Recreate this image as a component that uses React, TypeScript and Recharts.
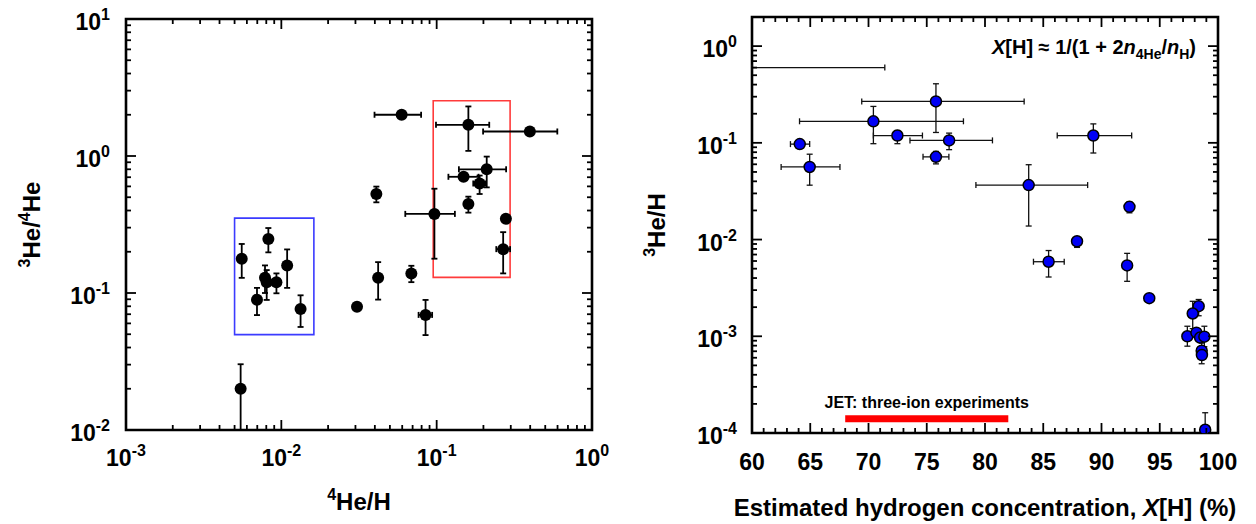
import React from "react";
import {
  ScatterChart,
  Scatter,
  XAxis,
  YAxis,
  ErrorBar,
  ReferenceArea,
  ReferenceLine,
} from "recharts";

const FONT = '"Liberation Sans", Arial, Helvetica, sans-serif';

// ---- left panel: 3He/4He against 4He/H ----
const he4PerH = [0.0595, 0.16, 0.398, 0.21, 0.149, 0.189, 0.16, 0.0967, 0.279, 0.268, 0.0409, 0.042, 0.0687, 0.0307, 0.0848, 0.00547, 0.00556, 0.00825, 0.00785, 0.00805, 0.0093, 0.0109, 0.00697, 0.0133];
const he3PerHe4 = [2.0, 1.69, 1.51, 0.8, 0.705, 0.63, 0.447, 0.378, 0.348, 0.209, 0.529, 0.129, 0.139, 0.0793, 0.0692, 0.02, 0.178, 0.248, 0.129, 0.12, 0.12, 0.159, 0.0893, 0.0764];
const he4Low = [0.0398, 0.099, 0.199, 0.139, 0.119, 0.172, null, 0.0628, null, 0.242, null, null, null, null, 0.0765, null, null, null, null, null, null, null, null, null];
const he4High = [0.0794, 0.218, 0.598, 0.28, 0.186, 0.206, null, 0.131, null, 0.297, null, null, null, null, 0.0935, null, null, null, null, null, null, null, null, null];
const ratioLow = [null, 1.09, null, 0.59, null, 0.528, 0.386, 0.178, null, 0.139, 0.459, 0.0895, 0.12, null, 0.0493, 0.01, 0.129, 0.198, 0.1, 0.089, 0.0995, 0.109, 0.069, 0.0565];
const ratioHigh = [null, 2.3, null, 0.99, null, 0.72, 0.505, 0.577, null, 0.278, 0.598, 0.168, 0.158, null, 0.089, 0.0302, 0.228, 0.298, 0.159, 0.147, 0.139, 0.208, 0.109, 0.0962];

// boxes drawn round the two groups
const blueBox = { x1: 0.005, x2: 0.0162, y1: 0.0497, y2: 0.352 };
const redBox = { x1: 0.095, x2: 0.297, y1: 0.13, y2: 2.53 };

const leftXTicks = [0.001, 0.002, 0.003, 0.004, 0.005, 0.006, 0.007, 0.008, 0.009, 0.01, 0.02, 0.03, 0.04, 0.05, 0.06, 0.07, 0.08, 0.09, 0.1, 0.2, 0.3, 0.4, 0.5, 0.6, 0.7, 0.8, 0.9, 1];
const leftYTicks = [0.01, 0.02, 0.03, 0.04, 0.05, 0.06, 0.07, 0.08, 0.09, 0.1, 0.2, 0.3, 0.4, 0.5, 0.6, 0.7, 0.8, 0.9, 1, 2, 3, 4, 5, 6, 7, 8, 9, 10];

// ---- right panel: 3He/H against X[H] ----
// first point sits left of the axis; only its error bar from the frame edge shows
const xH = [55.6, 64.1, 64.95, 70.42, 72.48, 75.79, 76.92, 75.79, 89.3, 83.75, 92.4, 87.9, 85.46, 92.2, 94.1, 98.34, 97.83, 97.37, 98.15, 98.46, 98.83, 98.6, 98.62, 98.9];
const he3PerH = [0.6, 0.097, 0.0563, 0.167, 0.119, 0.268, 0.106, 0.0716, 0.119, 0.0366, 0.0218, 0.0096, 0.0059, 0.0054, 0.00248, 0.00205, 0.00172, 0.001, 0.00109, 0.00097, 0.00099, 0.00071, 0.00064, 0.000108];
const xHLow = [60, 63.3, 62.5, 64.08, 70.42, 69.42, 73.56, 74.68, 86.2, 79.22, null, null, 84.16, null, null, null, null, null, null, null, null, null, null, null];
const xHHigh = [71.4, 64.95, 67.55, 78.15, 74.63, 83.36, 80.64, 76.9, 92.59, 88.81, null, null, 86.8, null, null, null, null, null, null, null, null, null, null, null];
const he3Low = [null, null, 0.0365, 0.098, 0.098, 0.128, 0.085, 0.0606, 0.0785, 0.0138, 0.0189, 0.0083, 0.0041, 0.0037, null, 0.00163, 0.0012, 0.00079, null, null, 0.00078, 0.00052, null, 0.0001];
const he3High = [null, null, 0.0763, 0.238, 0.134, 0.408, 0.126, 0.0815, 0.157, 0.0594, 0.0245, 0.0107, 0.0077, 0.0072, null, 0.0024, 0.0023, 0.00127, null, null, 0.00127, 0.00085, null, 0.000162];

const jetRange = [68, 82];
const jetLevel = 0.00014;

const rightXTicks = [60, 61, 62, 63, 64, 65, 66, 67, 68, 69, 70, 71, 72, 73, 74, 75, 76, 77, 78, 79, 80, 81, 82, 83, 84, 85, 86, 87, 88, 89, 90, 91, 92, 93, 94, 95, 96, 97, 98, 99, 100];
const rightYTicks = [0.0001, 0.0002, 0.0003, 0.0004, 0.0005, 0.0006, 0.0007, 0.0008, 0.0009, 0.001, 0.002, 0.003, 0.004, 0.005, 0.006, 0.007, 0.008, 0.009, 0.01, 0.02, 0.03, 0.04, 0.05, 0.06, 0.07, 0.08, 0.09, 0.1, 0.2, 0.3, 0.4, 0.5, 0.6, 0.7, 0.8, 0.9, 1, 2];

const err = (v: number, lo: number | null, hi: number | null) =>
  lo == null || hi == null ? null : [v - lo, hi - v];

const leftData = he4PerH.map((x, i) => ({
  x,
  y: he3PerHe4[i],
  ex: err(x, he4Low[i], he4High[i]),
  ey: err(he3PerHe4[i], ratioLow[i], ratioHigh[i]),
}));

const rightData = xH.map((x, i) => ({
  x,
  y: he3PerH[i],
  ex: err(x, xHLow[i], xHHigh[i]),
  ey: err(he3PerH[i], he3Low[i], he3High[i]),
}));

// plot frames inside each chart (chart-local pixels)
const LF = { left: 126, right: 592, top: 19, bottom: 430 };
const RF = { left: 132, right: 598, top: 17, bottom: 433 };

const isPow10 = (v: number) => Math.abs(Math.log10(v) - Math.round(Math.log10(v))) < 1e-6;

function PowText(props: any) {
  const { v, ...rest } = props;
  return (
    <text fontFamily={FONT} fontWeight="bold" fill="#000" fontSize={23} {...rest}>
      10
      <tspan dy={-10} fontSize={16}>{Math.round(Math.log10(v))}</tspan>
    </text>
  );
}

const tickStroke = { stroke: "#000", strokeWidth: 1.8 };

function LeftXTick(props: any) {
  const { x, payload } = props;
  const v = payload.value;
  const major = isPow10(v);
  const len = major ? 10 : 5;
  return (
    <g>
      <line x1={x} x2={x} y1={LF.bottom} y2={LF.bottom - len} {...tickStroke} />
      <line x1={x} x2={x} y1={LF.top} y2={LF.top + len} {...tickStroke} />
      {major && <PowText v={v} x={x} y={LF.bottom + 36} textAnchor="middle" />}
    </g>
  );
}

function LeftYTick(props: any) {
  const { y, payload } = props;
  const v = payload.value;
  const major = isPow10(v);
  const len = major ? 10 : 5;
  return (
    <g>
      <line x1={LF.left} x2={LF.left + len} y1={y} y2={y} {...tickStroke} />
      <line x1={LF.right} x2={LF.right - len} y1={y} y2={y} {...tickStroke} />
      {major && <PowText v={v} x={LF.left - 16} y={y + 11} textAnchor="end" />}
    </g>
  );
}

function RightXTick(props: any) {
  const { x, payload } = props;
  const v = payload.value;
  const major = v % 5 === 0;
  const len = major ? 10 : 5;
  return (
    <g>
      <line x1={x} x2={x} y1={RF.bottom} y2={RF.bottom - len} {...tickStroke} />
      <line x1={x} x2={x} y1={RF.top} y2={RF.top + len} {...tickStroke} />
      {major && (
        <text x={x} y={RF.bottom + 37} textAnchor="middle" fontFamily={FONT} fontWeight="bold" fontSize={23} fill="#000">
          {v}
        </text>
      )}
    </g>
  );
}

function RightYTick(props: any) {
  const { y, payload } = props;
  const v = payload.value;
  const major = isPow10(v);
  const len = major ? 10 : 5;
  return (
    <g>
      <line x1={RF.left} x2={RF.left + len} y1={y} y2={y} {...tickStroke} />
      <line x1={RF.right} x2={RF.right - len} y1={y} y2={y} {...tickStroke} />
      {major && <PowText v={v} x={RF.left - 15} y={y + 11} textAnchor="end" />}
    </g>
  );
}

const titleStyle = { fontFamily: FONT, fontWeight: "bold" as const, fill: "#000", fontSize: 24 };

function LeftXTitle() {
  return (
    <text x={(LF.left + LF.right) / 2} y={510} textAnchor="middle" {...titleStyle}>
      <tspan fontSize={16} dy={-10}>4</tspan>
      <tspan dy={10}>He/H</tspan>
    </text>
  );
}

function LeftYTitle() {
  const cx = 40;
  const cy = (LF.top + LF.bottom) / 2;
  return (
    <text x={cx} y={cy} textAnchor="middle" transform={`rotate(-90, ${cx}, ${cy})`} {...titleStyle}>
      <tspan fontSize={16} dy={-10}>3</tspan>
      <tspan dy={10}>He/</tspan>
      <tspan fontSize={16} dy={-10}>4</tspan>
      <tspan dy={10}>He</tspan>
    </text>
  );
}

function RightXTitle() {
  return (
    <text x={(RF.left + RF.right) / 2} y={516} textAnchor="middle" {...titleStyle}>
      Estimated hydrogen concentration, <tspan fontStyle="italic">X</tspan>[H] (%)
    </text>
  );
}

function RightYTitle() {
  const cx = 45;
  const cy = (RF.top + RF.bottom) / 2;
  return (
    <text x={cx} y={cy} textAnchor="middle" transform={`rotate(-90, ${cx}, ${cy})`} {...titleStyle}>
      <tspan fontSize={16} dy={-10}>3</tspan>
      <tspan dy={10}>He/H</tspan>
    </text>
  );
}

function LeftPanel() {
  return (
    <ScatterChart width={620} height={524} margin={{ top: 19, right: 28, bottom: 0, left: 0 }}>
      <XAxis
        type="number"
        dataKey="x"
        scale="log"
        domain={[0.001, 1]}
        allowDataOverflow
        ticks={leftXTicks}
        interval={0}
        tick={(p: any) => <LeftXTick {...p} />}
        tickLine={false}
        axisLine={false}
        height={94}
        label={{ content: () => <LeftXTitle /> }}
      />
      <YAxis
        type="number"
        dataKey="y"
        scale="log"
        domain={[0.01, 10]}
        allowDataOverflow
        ticks={leftYTicks}
        interval={0}
        tick={(p: any) => <LeftYTick {...p} />}
        tickLine={false}
        axisLine={false}
        width={126}
        label={{ content: () => <LeftYTitle /> }}
      />
      <ReferenceArea {...blueBox} fill="none" stroke="#3b3bff" strokeWidth={1.6} ifOverflow="visible" />
      <ReferenceArea {...redBox} fill="none" stroke="#ff3b3b" strokeWidth={1.6} ifOverflow="visible" />
      <Scatter
        data={leftData}
        isAnimationActive={false}
        shape={(p: any) => <circle cx={p.cx} cy={p.cy} r={6} fill="#000" />}
      >
        <ErrorBar dataKey="ex" direction="x" width={3} stroke="#000" strokeWidth={1.8} />
        <ErrorBar dataKey="ey" direction="y" width={3} stroke="#000" strokeWidth={1.8} />
      </Scatter>
      <ReferenceArea x1={0.001} x2={1} y1={0.01} y2={10} fill="none" stroke="#000" strokeWidth={2.6} ifOverflow="visible" />
    </ScatterChart>
  );
}

function RightPanel() {
  return (
    <div style={{ position: "relative", width: 636, height: 524 }}>
      <ScatterChart width={636} height={524} margin={{ top: 17, right: 38, bottom: 0, left: 0 }}>
        <XAxis
          type="number"
          dataKey="x"
          domain={[60, 100]}
          allowDataOverflow
          ticks={rightXTicks}
          interval={0}
          tick={(p: any) => <RightXTick {...p} />}
          tickLine={false}
          axisLine={false}
          height={91}
          label={{ content: () => <RightXTitle /> }}
        />
        <YAxis
          type="number"
          dataKey="y"
          scale="log"
          domain={[0.0001, 2]}
          allowDataOverflow
          ticks={rightYTicks}
          interval={0}
          tick={(p: any) => <RightYTick {...p} />}
          tickLine={false}
          axisLine={false}
          width={132}
          label={{ content: () => <RightYTitle /> }}
        />
        <ReferenceLine
          segment={[
            { x: jetRange[0], y: jetLevel },
            { x: jetRange[1], y: jetLevel },
          ]}
          stroke="#ff0000"
          strokeWidth={7}
          ifOverflow="visible"
          label={{
            value: "JET: three-ion experiments",
            position: "top",
            offset: 11,
            fill: "#000",
            fontSize: 16,
            fontWeight: "bold",
            fontFamily: FONT,
          }}
        />
        <Scatter
          data={rightData}
          isAnimationActive={false}
          shape={(p: any) => <circle cx={p.cx} cy={p.cy} r={5.5} fill="#0000f5" stroke="#000" strokeWidth={1.5} />}
        >
          <ErrorBar dataKey="ex" direction="x" width={3} stroke="#111" strokeWidth={1.3} />
          <ErrorBar dataKey="ey" direction="y" width={3} stroke="#111" strokeWidth={1.3} />
        </Scatter>
        <ReferenceArea x1={60} x2={100} y1={0.0001} y2={2} fill="none" stroke="#000" strokeWidth={2.6} ifOverflow="visible" />
      </ScatterChart>
      <svg width={636} height={524} style={{ position: "absolute", left: 0, top: 0, pointerEvents: "none" }}>
        <text x={576} y={54} textAnchor="end" fontFamily={FONT} fontWeight="bold" fontSize={20} fill="#000">
          <tspan fontStyle="italic">X</tspan>
          <tspan>[H] ≈ 1/(1 + 2</tspan>
          <tspan fontStyle="italic">n</tspan>
          <tspan fontSize={14} dy={5}>4He</tspan>
          <tspan dy={-5}>/</tspan>
          <tspan fontStyle="italic">n</tspan>
          <tspan fontSize={14} dy={5}>H</tspan>
          <tspan dy={-5}>)</tspan>
        </text>
      </svg>
    </div>
  );
}

export default function App() {
  return (
    <div
      style={{
        position: "absolute",
        left: 0,
        top: 0,
        width: 1256,
        height: 524,
        background: "#fff",
        display: "flex",
        fontFamily: FONT,
      }}
    >
      <LeftPanel />
      <RightPanel />
    </div>
  );
}
